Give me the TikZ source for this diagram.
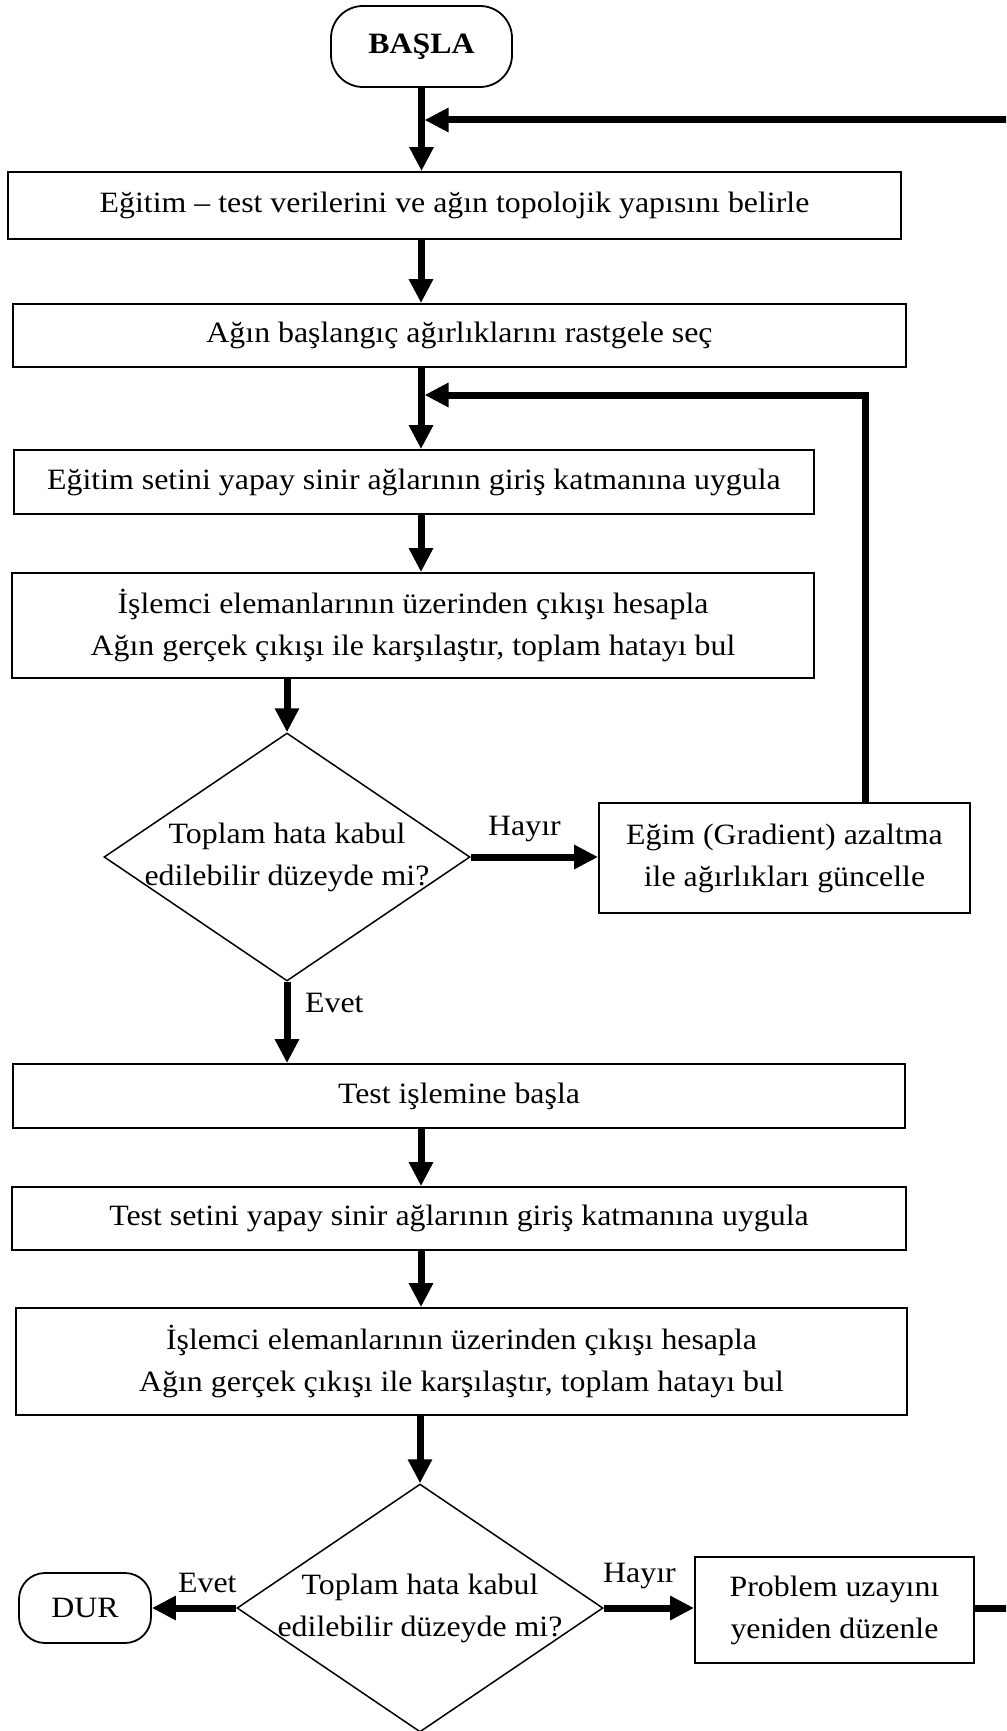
\documentclass[tikz,border=0pt]{standalone}
\usepackage{fontspec}
\setmainfont{Liberation Serif}[FakeStretch=1.08]
\usetikzlibrary{arrows.meta,shapes.geometric}
\tikzset{
  every node/.style={font=\fontsize{29.5pt}{42pt}\selectfont},
  box/.style={draw, line width=1.8pt, rectangle, inner sep=0pt, align=center},
  term/.style={draw, line width=1.8pt, rectangle, rounded corners=32pt, inner sep=0pt},
  decision/.style={draw, line width=1.5pt, diamond, inner sep=0pt,
                   minimum width=366pt, minimum height=248pt},
  dtext/.style={align=center, inner sep=0pt},
  conn/.style={line width=7pt, -{Triangle[length=24pt,width=23pt]}},
  tag/.style={anchor=base west, inner sep=0pt}
}
\begin{document}
\begin{tikzpicture}[x=1pt, y=-1pt]
\useasboundingbox (0,0) rectangle (1006,1731);
\clip (0,0) rectangle (1006,1731);

% training part
\node[term, minimum width=181pt, minimum height=81pt] (basla) at (421.5,46.5) {\textbf{BAŞLA}};
\node[box, minimum width=893pt, minimum height=67pt] (b1) at (454.5,205.5)
  {Eğitim – test verilerini ve ağın topolojik yapısını belirle};
\node[box, minimum width=893pt, minimum height=63pt] (b2) at (459.5,335.5)
  {Ağın başlangıç ağırlıklarını rastgele seç};
\node[box, minimum width=800pt, minimum height=64pt] (b3) at (414,482)
  {Eğitim setini yapay sinir ağlarının giriş katmanına uygula};
\node[box, minimum width=802pt, minimum height=105pt] (b4) at (413,625.5)
  {İşlemci elemanlarının üzerinden çıkışı hesapla\\Ağın gerçek çıkışı ile karşılaştır, toplam hatayı bul};
\node[decision] (d1) at (287,857) {};
\node[dtext] (d1t) at (d1.center) {Toplam hata kabul\\edilebilir düzeyde mi?};
\node[box, minimum width=371pt, minimum height=110pt] (b5) at (784.5,858)
  {Eğim (Gradient) azaltma\\ile ağırlıkları güncelle};

% test part
\node[box, minimum width=892pt, minimum height=64pt] (b6) at (459,1096)
  {Test işlemine başla};
\node[box, minimum width=894pt, minimum height=63pt] (b7) at (459,1218.5)
  {Test setini yapay sinir ağlarının giriş katmanına uygula};
\node[box, minimum width=891pt, minimum height=107pt] (b8) at (461.5,1361.5)
  {İşlemci elemanlarının üzerinden çıkışı hesapla\\Ağın gerçek çıkışı ile karşılaştır, toplam hatayı bul};
\node[decision] (d2) at (420,1608) {};
\node[dtext] (d2t) at (d2.center) {Toplam hata kabul\\edilebilir düzeyde mi?};
\node[term, rounded corners=26pt, minimum width=132pt, minimum height=70pt] (dur) at (85,1608) {DUR};
\node[box, minimum width=279pt, minimum height=106pt] (b9) at (834.5,1610)
  {Problem uzayını\\yeniden düzenle};

% branch labels
\node[tag] (l1) at (488,835) {Hayır};
\node[tag] (l2) at (305,1012) {Evet};
\node[tag] (l3) at (178,1592) {Evet};
\node[tag] (l4) at (603,1582) {Hayır};

% main flow
\coordinate (spine) at (421,0);
\draw[conn] (basla.south) -- (basla.south |- b1.north);
\draw[conn] (spine |- b1.south) -- (spine |- b2.north);
\draw[conn] (spine |- b2.south) -- (spine |- b3.north);
\draw[conn] (spine |- b3.south) -- (spine |- b4.north);
\draw[conn] (d1.north |- b4.south) -- (d1.north);
\draw[conn] (d1.east) -- (b5.west |- d1.east);
\draw[conn] (d1.south) -- (d1.south |- b6.north);
\draw[conn] (spine |- b6.south) -- (spine |- b7.north);
\draw[conn] (spine |- b7.south) -- (spine |- b8.north);
\draw[conn] (d2.north |- b8.south) -- (d2.north);
\draw[conn] (d2.west) -- (dur.east);
\draw[conn] (d2.east) -- (b9.west |- d2.east);

% loops back
\coordinate (fb1) at (865,395);
\draw[conn] (fb1 |- b5.north) -- (fb1) -- ([xshift=3.5pt]spine |- fb1);
\coordinate (fb2) at (1040,120);
\draw[conn] (b9.east |- d2.east) -- (fb2 |- d2.east) -- (fb2) -- ([xshift=3.5pt]spine |- fb2);
\end{tikzpicture}
\end{document}
